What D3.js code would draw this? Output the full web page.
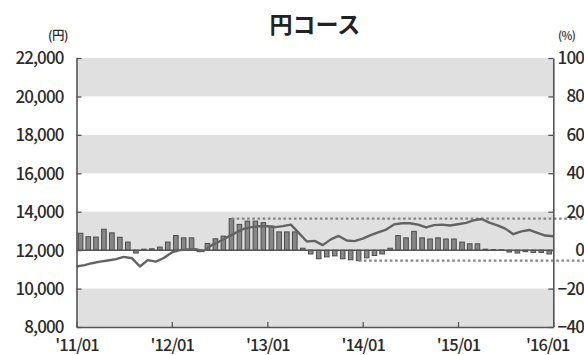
<!DOCTYPE html>
<html>
<head>
<meta charset="utf-8">
<script src="https://cdn.jsdelivr.net/npm/d3@7"></script>
<style>
  html, body { margin: 0; padding: 0; background: #fff; }
  svg { display: block; font-family: "Noto Sans CJK JP", "Noto Sans", sans-serif; }
</style>
</head>
<body>
<svg id="chart" width="584" height="355"></svg>
<script>
// 円コース: monthly price (left axis, 円) and monthly change bars (right axis, %)
const title = "円コース";
const leftUnit = "(円)";
const rightUnit = "(%)";

// month starts 2011/01 .. 2016/01 (61 points) for the price line
const priceYen = [
  11150, 11220, 11320, 11400, 11460, 11530, 11650, 11580, 11150, 11480,
  11400, 11590, 11880, 12000, 12030, 12050, 11950, 12250, 12450, 12680,
  12900, 13100, 13200, 13240, 13240, 13200, 13250, 13330, 12900, 12450,
  12480, 12260, 12560, 12740, 12500, 12470, 12600, 12780, 12930, 13070,
  13340, 13400, 13400, 13330, 13180, 13300, 13330, 13280, 13350, 13420,
  13550, 13620, 13430, 13290, 13120, 12830, 12980, 13050, 12900, 12760,
  12720
];

// monthly bars 2011/01 .. 2015/12 (60 values, %)
const changePct = [
   8.8,  7.0,  6.8, 10.9,  9.0,  6.7,  4.2, -1.5,  0.5,  0.7,
   1.6,  4.2,  7.6,  6.4,  6.4, -0.8,  3.5,  5.9,  7.3, 16.4,
  13.4, 15.1, 15.1, 14.3, 12.5,  9.5,  9.5,  9.5,  1.0, -2.0,
  -4.5, -3.5, -3.0, -4.5, -5.0, -5.5, -4.0, -2.8, -2.0,  1.0,
   7.6,  6.4,  9.8,  6.4,  5.8,  6.4,  5.8,  5.8,  4.2,  3.3,
   3.3,  0.5,  0.3,  0.2, -1.0, -1.5, -0.8, -1.2, -1.2, -2.0
];

const leftTicks = [8000, 10000, 12000, 14000, 16000, 18000, 20000, 22000];
const rightTicks = [-40, -20, 0, 20, 40, 60, 80, 100];
const xTickLabels = ["'11/01", "'12/01", "'13/01", "'14/01", "'15/01", "'16/01"];

const start = new Date(2011, 0, 1);
const lineDates = priceYen.map((_, i) => d3.timeMonth.offset(start, i));
const barDates = changePct.map((_, i) => d3.timeMonth.offset(start, i));
const xTickDates = xTickLabels.map((_, i) => d3.timeYear.offset(start, i));

const svg = d3.select("#chart");
const L = 76.5, R = 553.3, T = 58, B = 327;

const x = d3.scaleTime().domain([start, new Date(2016, 0, 1)]).range([L, R]);
const yL = d3.scaleLinear().domain([8000, 22000]).range([B, T]);
const yR = d3.scaleLinear().domain([-40, 100]).range([B, T]);

const axisCol = "#555";
const textCol = "#2b2b2b";

// alternating background bands
const bands = [[8000, 10000], [12000, 14000], [16000, 18000], [20000, 22000]];
svg.append("g").selectAll("rect").data(bands).join("rect")
  .attr("x", L).attr("width", R - L)
  .attr("y", d => yL(d[1])).attr("height", d => yL(d[0]) - yL(d[1]))
  .attr("fill", "#e0e0e0");

// bars, centred in each month
const barW = 4.6;
const mid = d => (x(d) + x(d3.timeMonth.offset(d, 1))) / 2;
svg.append("g").selectAll("rect").data(changePct).join("rect")
  .attr("x", (d, i) => mid(barDates[i]) - barW / 2)
  .attr("width", barW)
  .attr("y", d => yR(Math.max(0, d)))
  .attr("height", d => Math.abs(yR(d) - yR(0)))
  .attr("fill", "#878787")
  .attr("stroke", "#4a4a4a")
  .attr("stroke-width", 1);

// zero line
svg.append("line")
  .attr("x1", L).attr("x2", R).attr("y1", yR(0)).attr("y2", yR(0))
  .attr("stroke", axisCol).attr("stroke-width", 1.5);

// dotted lines at the highest and lowest bar
const iMax = d3.maxIndex(changePct), iMin = d3.minIndex(changePct);
[[iMax, changePct[iMax]], [iMin, changePct[iMin]]].forEach(([i, v]) => {
  svg.append("line")
    .attr("x1", mid(barDates[i])).attr("x2", 584)
    .attr("y1", yR(v)).attr("y2", yR(v))
    .attr("stroke", "#858585").attr("stroke-width", 2.2)
    .attr("stroke-dasharray", "2.6,2.6");
});

// price line
svg.append("path")
  .datum(priceYen)
  .attr("d", d3.line().x((d, i) => x(lineDates[i])).y(d => yL(d)))
  .attr("fill", "none").attr("stroke", "#636363").attr("stroke-width", 2.4)
  .attr("stroke-linejoin", "round");

// axes
const fmt = d3.format(",");
const gL = svg.append("g").attr("transform", `translate(${L},0)`)
  .call(d3.axisLeft(yL).tickValues(leftTicks).tickFormat(fmt).tickSizeInner(-5).tickSizeOuter(0).tickPadding(13));
const gR = svg.append("g").attr("transform", `translate(${R},0)`)
  .call(d3.axisRight(yR).tickValues(rightTicks).tickSizeInner(-5).tickSizeOuter(0).tickPadding(0));
const gB = svg.append("g").attr("transform", `translate(0,${B})`)
  .call(d3.axisBottom(x).tickValues(xTickDates).tickFormat((d, i) => xTickLabels[i]).tickSizeInner(-5).tickSizeOuter(0).tickPadding(10));

[gL, gR, gB].forEach(g => {
  g.select(".domain").attr("stroke", axisCol).attr("stroke-width", 1.6);
  g.selectAll(".tick line").attr("stroke", axisCol).attr("stroke-width", 1.3);
  g.selectAll("text").attr("fill", textCol).style("font-size", "17px").style("font-weight", "500")
    .style("font-family", "'Noto Sans CJK JP', sans-serif").style("letter-spacing", "-0.9px");
});
gL.selectAll("text").attr("x", -13).attr("dy", "0.35em");
gR.selectAll("text").attr("text-anchor", "end").attr("x", 584 - R).attr("dy", "0.32em");
gB.selectAll("text").attr("dy", "0.86em").style("font-size", "16.5px");
// last date label sits a little left of its tick, clear of the right axis labels
gB.selectAll("text").filter((d, i) => i === xTickLabels.length - 1).attr("x", -6);

// title and unit labels
svg.append("text").attr("x", (L + R) / 2).attr("y", 33).attr("text-anchor", "middle")
  .attr("fill", "#222").style("font-size", "23px").style("font-weight", "700").text(title);
svg.append("text").attr("x", 68).attr("y", 40).attr("text-anchor", "end")
  .attr("fill", textCol).style("font-size", "12.5px").style("font-weight", "500")
  .style("letter-spacing", "-0.5px").text(leftUnit);
svg.append("text").attr("x", 558).attr("y", 40).attr("text-anchor", "start")
  .attr("fill", textCol).style("font-size", "11.5px").style("font-weight", "500")
  .style("letter-spacing", "-0.6px").text(rightUnit);
</script>
</body>
</html>
